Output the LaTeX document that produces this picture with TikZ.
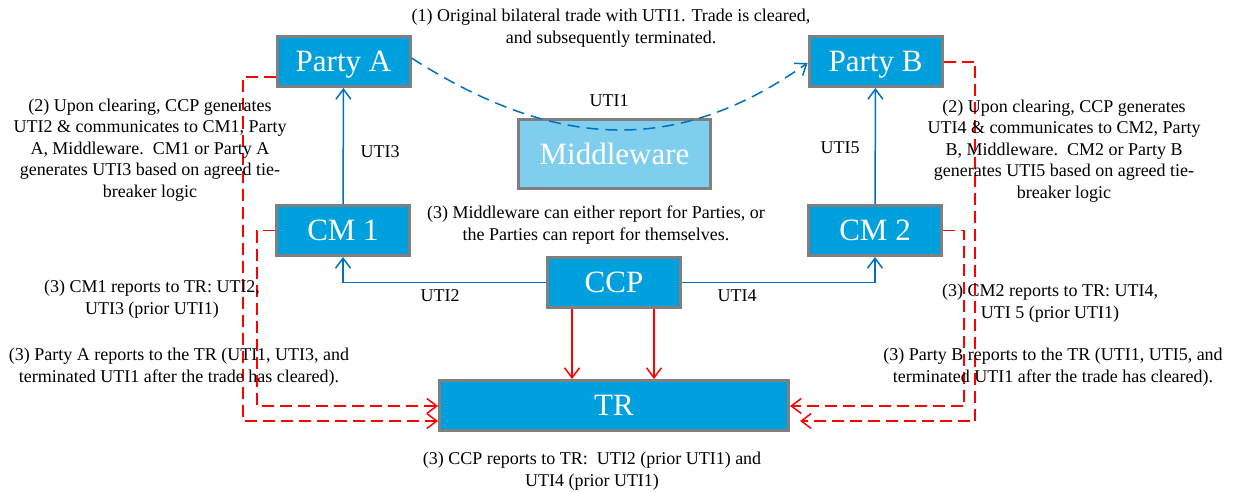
\documentclass[tikz,border=0pt]{standalone}
\usepackage{fontspec}
\setmainfont{Liberation Serif}
\usetikzlibrary{arrows.meta}
\definecolor{boxblue}{RGB}{0,160,222}
\definecolor{mwblue}{RGB}{128,206,238}
\definecolor{edgegray}{RGB}{127,127,127}
\definecolor{lineblue}{RGB}{0,112,192}
\tikzset{
  party/.style={draw=edgegray, line width=3pt, fill=boxblue, text=white,
    minimum width=133pt, minimum height=50pt, inner sep=0pt, text depth=0pt,
    font=\fontsize{31}{33}\selectfont},
  note/.style={align=center, inner sep=0pt, font=\fontsize{18}{21.5}\selectfont},
  blueline/.style={draw=lineblue, line width=1.5pt, -{Straight Barb[length=10pt,width=15pt]}},
  bluedash/.style={blueline, dash pattern=on 12pt off 7pt},
  redline/.style={draw=red, line width=1.5pt, -{Straight Barb[length=10pt,width=15pt]}},
  reddash/.style={redline, dash pattern=on 12pt off 6pt}
}

\begin{document}
\begin{tikzpicture}[x=1pt,y=-1pt]
			%%%%% START %%%%%
			\useasboundingbox (0,0) rectangle (1241,492);
			
			\node[party] (pA) at (343.5, 61.5) {Party A};
			\node[party] (pB) at (875.5, 61.5) {Party B};
			\node[party, fill=mwblue, minimum width=192pt, minimum height=69pt] (mw) at (614.5, 154) {Middleware};
			\node[party] (cm1) at (343, 230.5) {CM 1};
			\node[party] (cm2) at (875, 230.5) {CM 2};
			\node[party] (ccp) at (614, 282.5) {CCP};
			\node[party, minimum width=349pt] (tr) at (614, 405.5) {TR};
			
			\coordinate (la) at (243, 421);
			\coordinate (lc) at (257, 406);
			\coordinate (rb) at (975, 421);
			\coordinate (rc) at (964, 406);
			
			\draw[blueline] (cm1) -- (pA);
			\draw[blueline] (cm2) -- (pB);
			\draw[blueline] (ccp.west) -| (cm1.south);
			\draw[blueline] (ccp.east) -| (cm2.south);
			\draw[bluedash] ([yshift=3.5pt]pA.east) .. controls (560, 153) and (680, 153) .. ([yshift=-1.5pt]pB.west);
			
			\draw[redline] ([xshift=-42pt]ccp.south) -- ([xshift=-42pt]tr.north);
			\draw[redline] ([xshift=40pt]ccp.south) -- ([xshift=40pt]tr.north);
			
			\draw[reddash] ([yshift=-15.5pt]pA.west) -| (la) -- (la -| tr.west);
			\draw[reddash] (cm1.west) -| (lc) -- (lc -| tr.west);
			\draw[reddash, shorten >=10pt] ([yshift=-0.5pt]pB.east) -| (rb) -- (rb -| tr.east);
			\draw[reddash] (cm2.east) -| (rc) -- (rc -| tr.east);
			
			\node[note] (t1) at (611, 28) {(1) Original bilateral trade with UTI1. Trade is cleared,\\and subsequently terminated.};
			\node[note] (u1) at (609, 101) {UTI1};
			\node[note] (u3) at (380, 152) {UTI3};
			\node[note] (u5) at (840, 148) {UTI5};
			\node[note] (u2) at (440, 296) {UTI2};
			\node[note] (u4) at (737, 296) {UTI4};
			
			\node[note] (t2a) at (150, 150) {(2) Upon clearing, CCP generates\\UTI2 \& communicates to CM1, Party\\A, Middleware.\ \ CM1 or Party A\\generates UTI3 based on agreed tie-\\breaker logic};
			\node[note] (t2b) at (1064, 151) {(2) Upon clearing, CCP generates\\UTI4 \& communicates to CM2, Party\\B, Middleware.\ \ CM2 or Party B\\generates UTI5 based on agreed tie-\\breaker logic};
			\node[note] (t3m) at (596, 225) {(3) Middleware can either report for Parties, or\\the Parties can report for themselves.};
			\node[note] (t3c1) at (152, 299) {(3) CM1 reports to TR: UTI2,\\UTI3 (prior UTI1)};
			\node[note] (t3pa) at (179, 367) {(3) Party A reports to the TR (UTI1, UTI3, and\\terminated UTI1 after the trade has cleared).};
			\node[note] (t3c2) at (1050, 303) {(3) CM2 reports to TR: UTI4,\\UTI 5 (prior UTI1)};
			\node[note] (t3pb) at (1053, 367) {(3) Party B reports to the TR (UTI1, UTI5, and\\terminated UTI1 after the trade has cleared).};
			\node[note] (t3ccp) at (592, 471) {(3) CCP reports to TR:\ \ UTI2 (prior UTI1) and\\UTI4 (prior UTI1)};
			
			%%%%% END %%%%%
\end{tikzpicture}
\end{document}
